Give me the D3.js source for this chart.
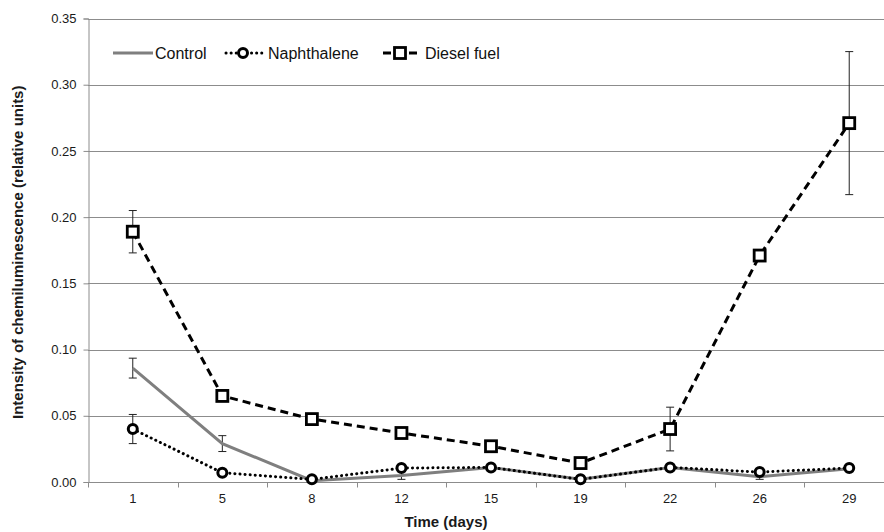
<!DOCTYPE html>
<html>
<head>
<meta charset="utf-8">
<script src="https://cdn.jsdelivr.net/npm/d3@7"></script>
<style>
  body { margin: 0; background: #fff; }
  svg { font-family: "Liberation Sans", Arial, sans-serif; }
</style>
</head>
<body>
<script>
// days on the x axis (category axis)
const days = ['1', '5', '8', '12', '15', '19', '22', '26', '29'];

const control = [0.086, 0.029, 0.001, 0.005, 0.011, 0.002, 0.011, 0.004, 0.010];
const controlErr = [0.0075, 0.006, 0.001, 0.003, 0.001, 0.001, 0.001, 0.002, 0.001];
const naphthalene = [0.040, 0.007, 0.002, 0.0105, 0.011, 0.002, 0.011, 0.0075, 0.0105];
const naphthaleneErr = [0.011, 0.001, 0.001, 0.001, 0.001, 0.001, 0.001, 0.001, 0.002];
const diesel = [0.189, 0.065, 0.0475, 0.037, 0.027, 0.0143, 0.040, 0.171, 0.271];
const dieselErr = [0.016, 0.002, 0.001, 0.002, 0.002, 0.002, 0.0165, 0.002, 0.054];

const yTicks = [0, 0.05, 0.10, 0.15, 0.20, 0.25, 0.30, 0.35];

const W = 884, H = 532;
const margin = { top: 18.5, right: -10, bottom: 50, left: 88 };

const svg = d3.select('body').append('svg')
    .attr('width', W)
    .attr('height', H);

const x = d3.scaleBand()
    .domain(days)
    .range([margin.left, W - margin.right]);

const y = d3.scaleLinear()
    .domain([0, 0.35])
    .range([H - margin.bottom, margin.top]);

const gridColor = '#8c8c8c';

// horizontal gridlines
svg.append('g')
    .selectAll('line')
    .data(yTicks.slice(1))
    .enter()
    .append('line')
    .attr('x1', margin.left)
    .attr('x2', W - margin.right)
    .attr('y1', d => Math.round(y(d)) + 0.5)
    .attr('y2', d => Math.round(y(d)) + 0.5)
    .attr('stroke', gridColor)
    .attr('stroke-width', 1);

// y axis
const yAxis = svg.append('g')
    .attr('transform', `translate(${margin.left + 0.5},0)`)
    .call(d3.axisLeft(y).tickValues(yTicks).tickFormat(d3.format('.2f')).tickSize(5).tickPadding(7));
yAxis.select('.domain').attr('stroke', gridColor);
yAxis.selectAll('.tick line').attr('stroke', gridColor);
yAxis.selectAll('.tick text')
    .style('font-size', '13px')
    .style('fill', '#1a1a1a')
    .style('font-family', '"Liberation Sans", Arial, sans-serif');

// x axis: ticks between categories
const xAxisG = svg.append('g')
    .attr('transform', `translate(0,${Math.round(y(0)) + 0.5})`);
xAxisG.append('line')
    .attr('x1', margin.left)
    .attr('x2', W - margin.right)
    .attr('stroke', gridColor);
const boundaries = days.map(d => x(d)).concat([x(days[days.length - 1]) + x.bandwidth()]);
xAxisG.selectAll('.tk')
    .data(boundaries)
    .enter()
    .append('line')
    .attr('x1', d => Math.round(d) + 0.5)
    .attr('x2', d => Math.round(d) + 0.5)
    .attr('y1', 0)
    .attr('y2', 5)
    .attr('stroke', gridColor);
xAxisG.selectAll('text')
    .data(days)
    .enter()
    .append('text')
    .attr('x', d => x(d) + x.bandwidth() / 2)
    .attr('y', 20)
    .attr('text-anchor', 'middle')
    .style('font-size', '13px')
    .style('fill', '#1a1a1a')
    .text(d => d);

// axis titles
svg.append('text')
    .attr('x', 446)
    .attr('y', 527)
    .attr('text-anchor', 'middle')
    .style('font-size', '15px')
    .style('font-weight', 'bold')
    .style('fill', '#1a1a1a')
    .text('Time (days)');

svg.append('text')
    .attr('transform', `translate(23,${(y(0) + y(0.35)) / 2 + 2}) rotate(-90)`)
    .attr('text-anchor', 'middle')
    .style('font-size', '15px')
    .style('font-weight', 'bold')
    .style('fill', '#1a1a1a')
    .text('Intensity of chemiluminescence (relative units)');

const series = [
    { name: 'Control', values: control, err: controlErr, color: '#7f7f7f', dash: null, width: 3, marker: null },
    { name: 'Naphthalene', values: naphthalene, err: naphthaleneErr, color: '#000', dash: '0.1 5', width: 3, marker: 'circle' },
    { name: 'Diesel fuel', values: diesel, err: dieselErr, color: '#000', dash: '8 5', width: 3, marker: 'square' }
];

const cx = d => x(d) + x.bandwidth() / 2;

series.forEach(s => {
    const pts = days.map((d, i) => ({ day: d, v: s.values[i], e: s.err[i] }));

    // error bars
    const eb = svg.append('g');
    pts.forEach(p => {
        eb.append('line')
            .attr('x1', cx(p.day)).attr('x2', cx(p.day))
            .attr('y1', y(p.v - p.e)).attr('y2', y(p.v + p.e))
            .attr('stroke', '#222').attr('stroke-width', 1);
        [p.v - p.e, p.v + p.e].forEach(v => {
            eb.append('line')
                .attr('x1', cx(p.day) - 4).attr('x2', cx(p.day) + 4)
                .attr('y1', y(v)).attr('y2', y(v))
                .attr('stroke', '#222').attr('stroke-width', 1);
        });
    });

    // line
    svg.append('path')
        .datum(pts)
        .attr('fill', 'none')
        .attr('stroke', s.color)
        .attr('stroke-width', s.width)
        .attr('stroke-linecap', s.marker === 'circle' ? 'round' : 'butt')
        .attr('stroke-dasharray', s.dash)
        .attr('d', d3.line().x(p => cx(p.day)).y(p => y(p.v)));

    // markers
    if (s.marker === 'circle') {
        svg.append('g').selectAll('circle')
            .data(pts)
            .enter()
            .append('circle')
            .attr('cx', p => cx(p.day))
            .attr('cy', p => y(p.v))
            .attr('r', 4.5)
            .attr('fill', '#fff')
            .attr('stroke', '#000')
            .attr('stroke-width', 3);
    } else if (s.marker === 'square') {
        svg.append('g').selectAll('rect')
            .data(pts)
            .enter()
            .append('rect')
            .attr('x', p => cx(p.day) - 5.5)
            .attr('y', p => y(p.v) - 5.5)
            .attr('width', 11)
            .attr('height', 11)
            .attr('fill', '#fff')
            .attr('stroke', '#000')
            .attr('stroke-width', 2.8);
    }
});

// legend
const legendY = 53;
const legend = svg.append('g');
// Control
legend.append('line')
    .attr('x1', 113).attr('x2', 153).attr('y1', legendY).attr('y2', legendY)
    .attr('stroke', '#7f7f7f').attr('stroke-width', 3);
legend.append('text')
    .attr('x', 155).attr('y', legendY + 5.5)
    .style('font-size', '16px').style('fill', '#111')
    .text('Control');
// Naphthalene
legend.append('line')
    .attr('x1', 226).attr('x2', 262).attr('y1', legendY).attr('y2', legendY)
    .attr('stroke', '#000').attr('stroke-width', 3)
    .attr('stroke-linecap', 'round').attr('stroke-dasharray', '0.1 5');
legend.append('circle')
    .attr('cx', 243).attr('cy', legendY).attr('r', 4.5)
    .attr('fill', '#fff').attr('stroke', '#000').attr('stroke-width', 3);
legend.append('text')
    .attr('x', 268).attr('y', legendY + 5.5)
    .style('font-size', '16px').style('fill', '#111')
    .text('Naphthalene');
// Diesel fuel
legend.append('line')
    .attr('x1', 383).attr('x2', 418).attr('y1', legendY).attr('y2', legendY)
    .attr('stroke', '#000').attr('stroke-width', 3)
    .attr('stroke-dasharray', '8 5');
legend.append('rect')
    .attr('x', 394.5).attr('y', legendY - 5.5).attr('width', 11).attr('height', 11)
    .attr('fill', '#fff').attr('stroke', '#000').attr('stroke-width', 2.8);
legend.append('text')
    .attr('x', 425).attr('y', legendY + 5.5)
    .style('font-size', '16px').style('fill', '#111')
    .text('Diesel fuel');
</script>
</body>
</html>
